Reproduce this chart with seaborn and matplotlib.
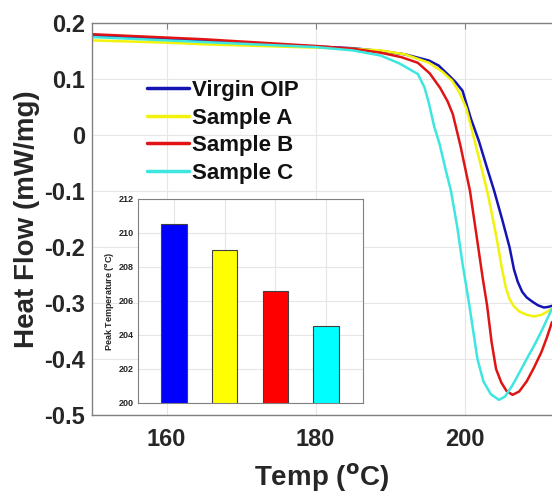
import numpy as np
import pandas as pd
import matplotlib
matplotlib.use("Agg")
import matplotlib.pyplot as plt
import seaborn as sns

# -----------------------------
# Data
# -----------------------------
samples = ["Virgin OIP", "Sample A", "Sample B", "Sample C"]

temp_virgin = [150, 155, 160, 165, 170, 175, 180, 185, 188.7, 192, 195.2, 196.5, 197.9, 198.8,
               199.7, 200.8, 201.9, 202.9, 203.95, 205.0, 206.0, 206.6, 207.1, 207.7, 208.3,
               209.0, 209.8, 210.6, 211.2, 211.7]
hf_virgin = [0.178, 0.175, 0.172, 0.168, 0.165, 0.161, 0.158, 0.155, 0.150, 0.144, 0.133, 0.124,
             0.106, 0.094, 0.079, 0.030, -0.011, -0.055, -0.100, -0.150, -0.200, -0.240, -0.262,
             -0.280, -0.290, -0.297, -0.304, -0.308, -0.307, -0.305]

temp_a = [150, 155, 160, 165, 170, 175, 180, 185, 188.7, 192, 195.2, 197.0, 198.3, 199.3, 200.2,
          200.9, 201.5, 202.3, 203.0, 203.7, 204.35, 205.0, 205.5, 206.0, 206.6, 207.3, 208.3,
          209.3, 210.3, 211.0, 211.7]
hf_a = [0.169, 0.167, 0.165, 0.162, 0.160, 0.158, 0.156, 0.154, 0.151, 0.144, 0.129, 0.113,
        0.097, 0.075, 0.048, 0.012, -0.020, -0.062, -0.100, -0.145, -0.190, -0.240, -0.272,
        -0.293, -0.306, -0.315, -0.321, -0.324, -0.321, -0.316, -0.310]

temp_b = [150, 155, 160, 165, 170, 175, 180, 185, 188.7, 191.5, 193.7, 195.3, 196.7, 197.7, 198.4,
          199.4, 200.7, 201.8, 202.4, 203.0, 203.6, 204.2, 204.9, 205.6, 206.4, 207.3, 208.3,
          209.3, 210.3, 211.0, 211.7]
hf_b = [0.180, 0.177, 0.174, 0.171, 0.167, 0.163, 0.159, 0.154, 0.147, 0.139, 0.129, 0.110,
        0.084, 0.060, 0.037, -0.018, -0.100, -0.200, -0.255, -0.305, -0.370, -0.418, -0.442,
        -0.457, -0.464, -0.458, -0.440, -0.415, -0.387, -0.362, -0.334]

temp_c = [150, 155, 160, 165, 170, 175, 180, 185, 188.7, 191.2, 193.7, 194.6, 195.2, 195.9, 196.6,
          197.4, 198.15, 199.0, 199.7, 200.6, 201.7, 202.5, 203.5, 204.6, 205.4, 206.3, 207.3,
          208.3, 209.3, 210.3, 211.0, 211.7]
hf_c = [0.175, 0.172, 0.169, 0.166, 0.163, 0.160, 0.157, 0.151, 0.142, 0.128, 0.109, 0.085,
        0.056, 0.015, -0.015, -0.060, -0.100, -0.165, -0.230, -0.303, -0.400, -0.440, -0.463,
        -0.473, -0.467, -0.449, -0.425, -0.400, -0.376, -0.350, -0.330, -0.310]

peak_temps = [210.5, 209.0, 206.6, 204.5]

y_ticks = [-0.5, -0.4, -0.3, -0.2, -0.1, 0, 0.1, 0.2]
y_ticklabels = ["-0.5", "-0.4", "-0.3", "-0.2", "-0.1", "0", "0.1", "0.2"]

line_colors = ["#1414b4", "#f2f20a", "#e01414", "#3ee6e0"]
bar_colors = ["#0000ff", "#ffff00", "#ff0000", "#00ffff"]

curves = pd.concat([
    pd.DataFrame({"temp": t, "hf": h, "sample": s})
    for t, h, s in zip([temp_virgin, temp_a, temp_b, temp_c],
                       [hf_virgin, hf_a, hf_b, hf_c], samples)
], ignore_index=True)

# -----------------------------
# Style
# -----------------------------
sns.set_style("whitegrid", {"grid.color": "#e6e6e6", "axes.edgecolor": "#808080"})
plt.rcParams["font.family"] = ["Liberation Sans", "DejaVu Sans"]
txt = "#262626"

fig = plt.figure(figsize=(5.52, 4.96), dpi=100)
ax = fig.add_axes([0.1667, 0.1633, 0.8333, 0.7903])

sns.lineplot(data=curves, x="temp", y="hf", hue="sample", palette=line_colors,
             sort=False, estimator=None, lw=1.8, ax=ax)

ax.set_xlim(150, 211.7)
ax.set_ylim(-0.5, 0.2)
ax.set_xticks([160, 180, 200])
ax.set_yticks(y_ticks)
ax.set_yticklabels(y_ticklabels)
ax.tick_params(direction="in", length=4, color="#808080", labelsize=17, labelcolor=txt,
               top=True)
ax.tick_params(axis="y", pad=5)
ax.tick_params(axis="x", pad=9)
for lab in ax.get_xticklabels() + ax.get_yticklabels():
    lab.set_fontweight("bold")
ax.spines["right"].set_visible(False)
for sp in ["left", "bottom", "top"]:
    ax.spines[sp].set_linewidth(1.0)

ax.set_xlabel("Temp ($\\mathbf{^{o}}$C)", fontsize=20, fontweight="bold", color=txt, labelpad=8)
ax.set_ylabel("Heat Flow (mW/mg)", fontsize=20, fontweight="bold", color=txt, labelpad=3)

leg = ax.legend(loc="upper left", bbox_to_anchor=(0.12, 0.855), frameon=False,
                prop={"size": 16, "weight": "bold"}, handlelength=1.9,
                handletextpad=0.1, labelspacing=0.3, borderaxespad=0, borderpad=0)
for line in leg.get_lines():
    line.set_linewidth(2.5)
for t in leg.get_texts():
    t.set_color("#111111")

# -----------------------------
# Inset: peak temperature bars
# -----------------------------
ax2 = fig.add_axes([0.25, 0.1875, 0.4076, 0.4113])
sns.barplot(x=samples, y=peak_temps, hue=samples, palette=bar_colors, legend=False,
            saturation=1, width=0.5, edgecolor="#404040", linewidth=0.8, ax=ax2)
ax2.set_ylim(200, 212)
ax2.set_xlim(-0.71, 3.73)
ax2.set_yticks(range(200, 213, 2))
ax2.set_xticklabels([])
ax2.tick_params(direction="in", length=3, color="#808080", labelsize=6.5, labelcolor=txt, pad=3)
for lab in ax2.get_yticklabels():
    lab.set_fontweight("bold")
ax2.set_ylabel("Peak Temperature ($\\mathbf{^{o}}$C)", fontsize=6.5, fontweight="bold",
               color=txt, labelpad=2)
ax2.grid(True, color="#e6e6e6")
ax2.set_axisbelow(True)
for sp in ax2.spines.values():
    sp.set_color("#808080")
    sp.set_linewidth(0.8)

fig.savefig("out.png", dpi=100)
